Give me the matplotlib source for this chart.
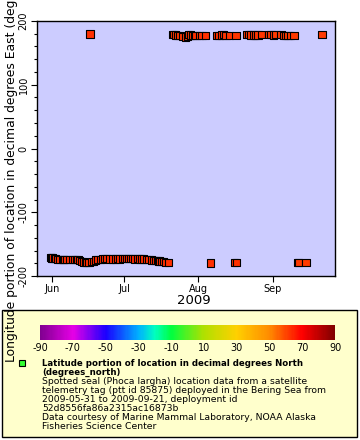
import datetime as dt
import matplotlib
matplotlib.use('Agg')
import matplotlib.pyplot as plt
import matplotlib.dates as mdates
from matplotlib.colors import LinearSegmentedColormap
from matplotlib.patches import Rectangle
from matplotlib.ticker import MultipleLocator

plt.rcParams['font.family'] = 'DejaVu Sans'
plt.rcParams['axes.unicode_minus'] = False

start = dt.datetime(2009, 6, 1)

# days since 2009-06-01, in time order
day_offset = [-0.6, -0.3, 0.2, 1.1, 1.6, 2.4, 3.2, 4.3, 4.9, 5.3, 6.2, 7.2, 8.6, 9.4,
              10.2, 10.8, 11.6, 12.4, 13.2, 13.9, 14.6, 15.4, 15.8, 16.3, 17.2, 18.0,
              19.0, 20.1, 21.0, 21.9, 22.8, 24.2, 25.3, 26.3, 27.2, 28.1, 29.3, 30.1,
              31.0, 31.8, 32.6, 33.5, 34.6, 35.6, 36.6, 37.3, 38.2, 39.4, 40.4, 41.3,
              42.3, 43.2, 43.9, 44.6, 45.0, 45.6, 46.3, 47.3, 48.6, 50.2, 50.8, 51.5,
              52.3, 53.3, 54.5, 55.5, 56.4, 57.0, 57.6, 58.5, 59.3, 60.0, 61.3, 62.5,
              64.0, 65.9, 68.6, 69.6, 70.8, 71.6, 72.5, 74.0, 76.0, 76.7, 77.0, 81.2,
              82.0, 82.8, 83.8, 84.8, 85.8, 87.4, 90.3, 91.2, 92.2, 93.3, 95.4, 96.4,
              97.3, 98.3, 99.3, 100.8, 102.5, 102.8, 105.8, 112.5]

longitude = [-171.5, -171.6, -171.8, -172.2, -172.8, -173.6, -174.0, -173.8, -173.9, -173.7,
             -173.9, -173.8, -174.2, -174.3, -174.6, -174.5, -175.4, -176.8, -178.0, -178.8,
             -179.3, -178.6, 179.6, -177.8, -176.8, -175.0, -174.0, -173.6, -173.2, -173.1,
             -173.0, -173.3, -173.2, -173.3, -173.1, -173.2, -173.0, -173.1, -172.9, -172.8,
             -172.8, -173.0, -173.2, -173.0, -173.2, -173.4, -173.4, -173.8, -174.0, -174.8,
             -175.2, -175.4, -175.8, -176.5, -176.9, -177.3, -177.8, -178.4, -179.0, 178.4,
             178.6, 178.0, 177.5, 176.8, 175.5, 174.8, 175.6, 178.3, 178.0, 177.6,
             177.8, 177.7, 177.6, 177.8, 177.4, -179.7, 177.8, 177.6, 177.9, 178.6,
             177.8, 177.4, -178.8, 177.4, -178.4, 178.6, 178.3, 178.2, 177.9, 178.0,
             178.2, 178.4, 178.8, 178.5, 178.2, 178.5, 178.6, 177.6, 177.0, 177.4,
             177.5, 177.2, -179.3, -178.9, -178.3, 179.1]

latitude = [62.6, 62.7, 62.7, 62.8, 62.9, 63.0, 63.1, 63.1, 63.2, 63.2,
            63.3, 63.3, 63.4, 63.4, 63.5, 63.5, 63.4, 63.3, 63.2, 63.1,
            63.0, 63.1, 63.0, 63.2, 63.3, 63.4, 63.5, 63.6, 63.6, 63.7,
            63.7, 63.8, 63.8, 63.8, 63.9, 63.9, 63.9, 64.0, 64.0, 64.0,
            64.1, 64.1, 64.1, 64.0, 64.0, 63.9, 63.9, 63.8, 63.7, 63.6,
            63.5, 63.4, 63.3, 63.2, 63.1, 63.0, 62.9, 62.8, 62.7, 62.6,
            62.5, 62.5, 62.4, 62.3, 62.2, 62.2, 62.3, 62.4, 62.5, 62.5,
            62.6, 62.6, 62.7, 62.7, 62.8, 62.8, 62.7, 62.7, 62.6, 62.6,
            62.5, 62.5, 62.6, 62.4, 62.6, 62.3, 62.3, 62.2, 62.2, 62.1,
            62.1, 62.0, 62.0, 61.9, 61.9, 61.8, 61.8, 61.7, 61.7, 61.6,
            61.6, 61.5, 61.8, 61.7, 61.6, 61.4]

cbar_ticks = list(range(-90, 91, 20))

legend_lines = [
    ("Latitude portion of location in decimal degrees North", "bold"),
    ("(degrees_north)", "bold"),
    ("Spotted seal (Phoca largha) location data from a satellite", "normal"),
    ("telemetry tag (ptt id 85875) deployed in the Bering Sea from", "normal"),
    ("2009-05-31 to 2009-09-21, deployment id", "normal"),
    ("52d8556fa86a2315ac16873b", "normal"),
    ("Data courtesy of Marine Mammal Laboratory, NOAA Alaska", "normal"),
    ("Fisheries Science Center", "normal"),
]

times = [start + dt.timedelta(days=d) for d in day_offset]

rainbow = LinearSegmentedColormap.from_list('erddap_rainbow', [
    (0.0, '#800090'),
    (1 / 9, '#e600e6'),
    (2 / 9, '#1a00ff'),
    (3 / 9, '#00b0ff'),
    (3.5 / 9, '#00ffc0'),
    (4 / 9, '#00ff40'),
    (5 / 9, '#b0e000'),
    (6 / 9, '#ffd000'),
    (7 / 9, '#ff8c00'),
    (8 / 9, '#ff0000'),
    (1.0, '#800000'),
])

W, H = 360, 440
fig = plt.figure(figsize=(W / 100, H / 100), dpi=100)

ax = fig.add_axes([37 / W, 1 - 276 / H, 298 / W, 255 / H])
ax.set_facecolor('#ccccff')
sc = ax.scatter(times, longitude, c=latitude, cmap=rainbow, vmin=-90, vmax=90,
                marker='s', s=27, edgecolors='black', linewidths=0.8, zorder=3)

ax.set_ylim(-200, 200)
ax.set_xlim(start + dt.timedelta(days=-6.25), start + dt.timedelta(days=117.9))
ax.yaxis.set_major_locator(MultipleLocator(100))
ax.yaxis.set_minor_locator(MultipleLocator(20))
ax.xaxis.set_major_locator(mdates.MonthLocator())
ax.xaxis.set_major_formatter(mdates.DateFormatter('%b'))
ax.tick_params(axis='both', which='major', labelsize=7, length=4, width=0.8, pad=2)
ax.tick_params(axis='both', which='minor', length=2, width=0.8)
for lab in ax.get_yticklabels():
    lab.set_rotation(90)
    lab.set_va('center')
for sp in ax.spines.values():
    sp.set_linewidth(1)

fig.text(194 / W, 1 - 301 / H, '2009', ha='center', va='center', fontsize=9.5)
fig.text(12 / W, 1 - 148.5 / H,
         'Longitude portion of location in decimal degrees East (degrees_east)',
         rotation=90, ha='center', va='center', fontsize=8.95)

# legend box
fig.add_artist(Rectangle((2 / W, 3 / H), 355 / W, 127 / H, transform=fig.transFigure,
                         facecolor='#ffffcc', edgecolor='black', linewidth=1, zorder=-1))

cax = fig.add_axes([40 / W, 1 - 340 / H, 295 / W, 15 / H])
cb = fig.colorbar(sc, cax=cax, orientation='horizontal', ticks=cbar_ticks)
cb.outline.set_visible(False)
cax.tick_params(labelsize=7, length=0, pad=2)

fig.add_artist(Rectangle((19 / W, 1 - 366 / H), 6 / W, 6 / H, transform=fig.transFigure,
                         facecolor='#33ff33', edgecolor='black', linewidth=0.8))

for i, (line, weight) in enumerate(legend_lines):
    size = 6.2 if weight == 'bold' else 6.7
    fig.text(42 / W, 1 - (363.3 + 9 * i) / H, line, ha='left', va='center',
             fontsize=size, fontweight=weight)

fig.savefig('out.png', dpi=100)
